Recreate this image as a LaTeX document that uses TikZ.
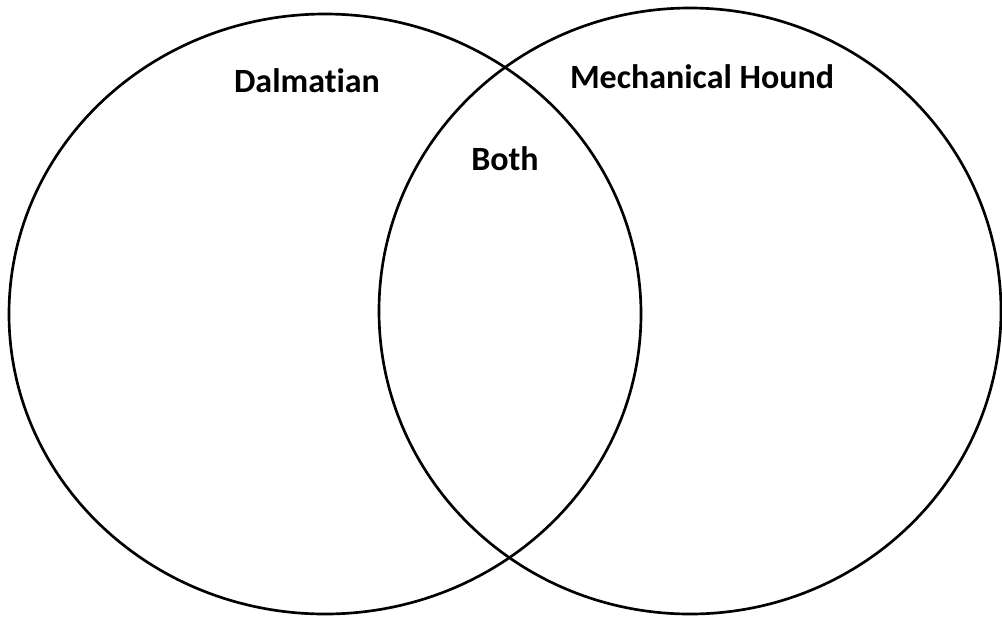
\documentclass[tikz,border=0pt]{standalone}
\usepackage{fontspec}
\setsansfont{Carlito}[Ligatures=NoCommon]
\usepackage{tikz}
\usetikzlibrary{positioning}
\tikzset{
  vennring/.style={draw=black, line width=2pt},
  venntext/.style={font=\fontsize{25.5}{28}\selectfont\sffamily\bfseries, text=black}
}

\begin{document}
\begin{tikzpicture}[x=0.75pt, y=-0.75pt]
  \useasboundingbox (0,0) rectangle (1002,618);
  % the two sets
  \draw[vennring] (325,314) ellipse [x radius=316, y radius=300];
  \draw[vennring] (690,311) ellipse [x radius=311, y radius=303];
  % labels
  \node[venntext] (dalmatian) at (307,81) {Dalmatian};
  \node[venntext] (hound) at (702,77) {Mechanical Hound};
  \node[venntext] (both) at (505,159) {Both};
\end{tikzpicture}
\end{document}
